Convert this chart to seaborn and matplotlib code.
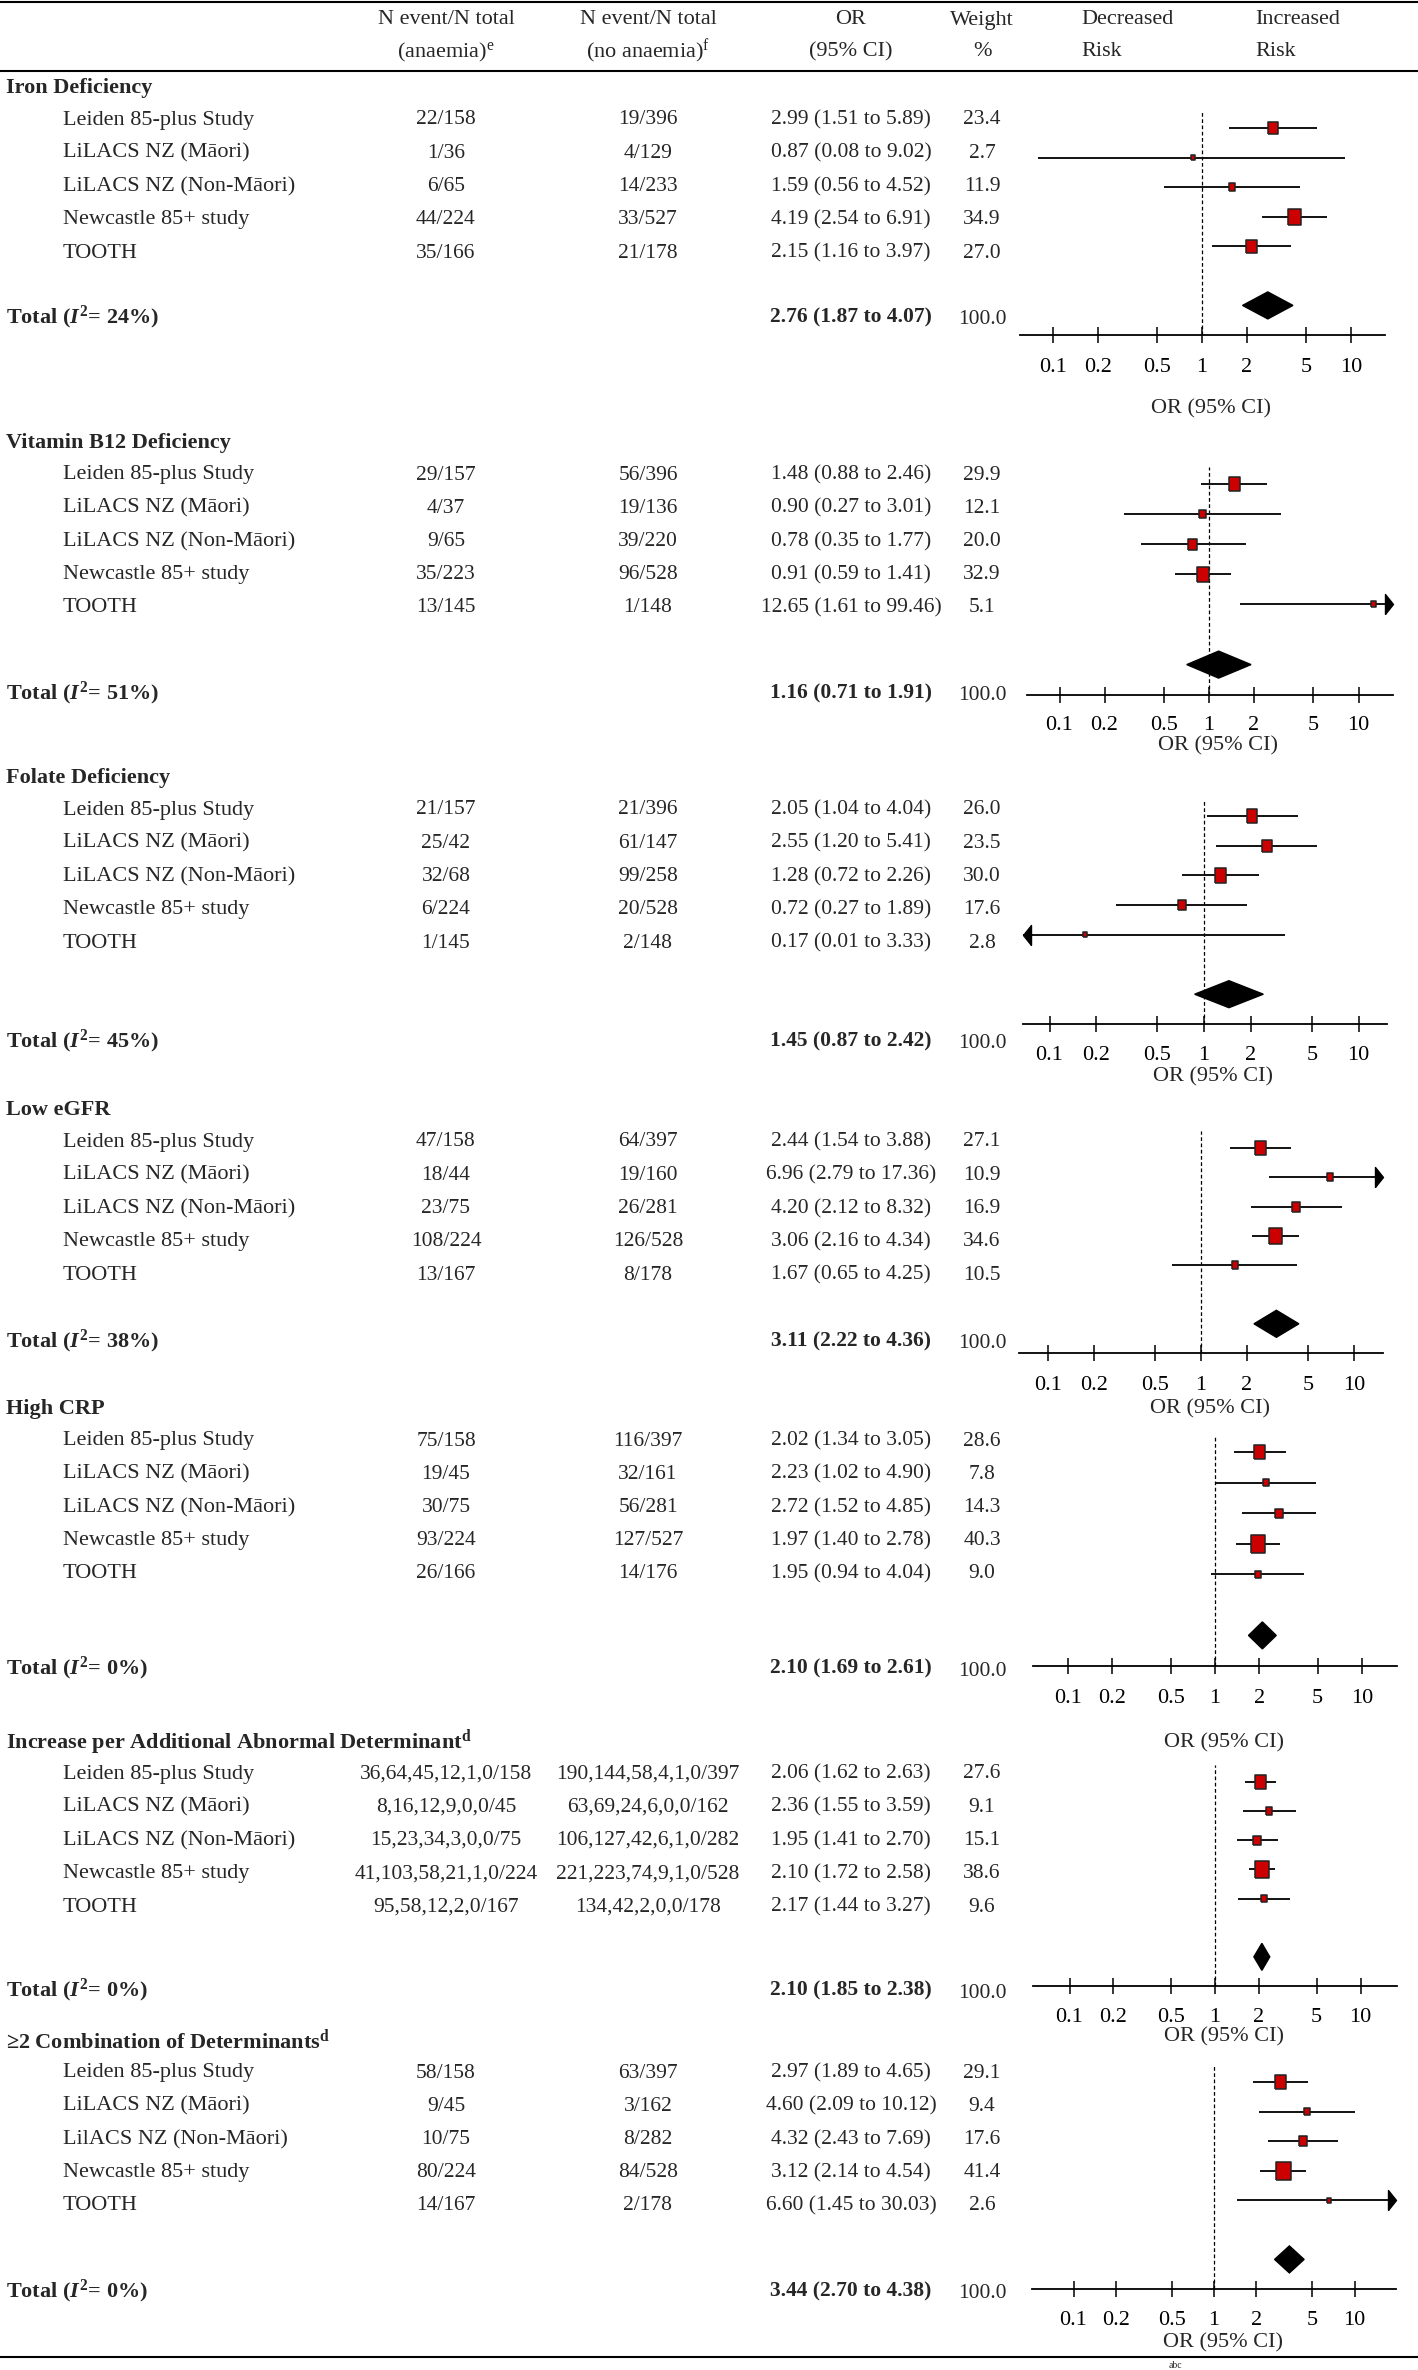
#!/usr/bin/env python3
"""
Forest plots: determinants of anaemia across five cohorts (seven panels)
"""
import matplotlib
matplotlib.use("Agg")
import numpy as np
import pandas as pd
import matplotlib.pyplot as plt
import seaborn as sns
from matplotlib.ticker import NullLocator

W, H, DPI = 1418, 2370, 100

# ---------------- data ----------------
studies = ["Leiden 85-plus Study", "LiLACS NZ (Māori)", "LiLACS NZ (Non-Māori)",
           "Newcastle 85+ study", "TOOTH"]
studies_combo = ["Leiden 85-plus Study", "LiLACS NZ (Māori)", "LilACS NZ (Non-Māori)",
                 "Newcastle 85+ study", "TOOTH"]
or_ticks = [0.1, 0.2, 0.5, 1, 2, 5, 10]
or_tick_labels = ["0.1", "0.2", "0.5", "1", "2", "5", "10"]

iron_anaemia = ["22/158", "1/36", "6/65", "44/224", "35/166"]
iron_none = ["19/396", "4/129", "14/233", "33/527", "21/178"]
iron_or = [2.99, 0.87, 1.59, 4.19, 2.15]
iron_lo = [1.51, 0.08, 0.56, 2.54, 1.16]
iron_hi = [5.89, 9.02, 4.52, 6.91, 3.97]
iron_w = [23.4, 2.7, 11.9, 34.9, 27.0]
iron_total = [2.76, 1.87, 4.07]
iron_i2 = 24

b12_anaemia = ["29/157", "4/37", "9/65", "35/223", "13/145"]
b12_none = ["56/396", "19/136", "39/220", "96/528", "1/148"]
b12_or = [1.48, 0.90, 0.78, 0.91, 12.65]
b12_lo = [0.88, 0.27, 0.35, 0.59, 1.61]
b12_hi = [2.46, 3.01, 1.77, 1.41, 99.46]
b12_w = [29.9, 12.1, 20.0, 32.9, 5.1]
b12_total = [1.16, 0.71, 1.91]
b12_i2 = 51

fol_anaemia = ["21/157", "25/42", "32/68", "6/224", "1/145"]
fol_none = ["21/396", "61/147", "99/258", "20/528", "2/148"]
fol_or = [2.05, 2.55, 1.28, 0.72, 0.17]
fol_lo = [1.04, 1.20, 0.72, 0.27, 0.01]
fol_hi = [4.04, 5.41, 2.26, 1.89, 3.33]
fol_w = [26.0, 23.5, 30.0, 17.6, 2.8]
fol_total = [1.45, 0.87, 2.42]
fol_i2 = 45

egfr_anaemia = ["47/158", "18/44", "23/75", "108/224", "13/167"]
egfr_none = ["64/397", "19/160", "26/281", "126/528", "8/178"]
egfr_or = [2.44, 6.96, 4.20, 3.06, 1.67]
egfr_lo = [1.54, 2.79, 2.12, 2.16, 0.65]
egfr_hi = [3.88, 17.36, 8.32, 4.34, 4.25]
egfr_w = [27.1, 10.9, 16.9, 34.6, 10.5]
egfr_total = [3.11, 2.22, 4.36]
egfr_i2 = 38

crp_anaemia = ["75/158", "19/45", "30/75", "93/224", "26/166"]
crp_none = ["116/397", "32/161", "56/281", "127/527", "14/176"]
crp_or = [2.02, 2.23, 2.72, 1.97, 1.95]
crp_lo = [1.34, 1.02, 1.52, 1.40, 0.94]
crp_hi = [3.05, 4.90, 4.85, 2.78, 4.04]
crp_w = [28.6, 7.8, 14.3, 40.3, 9.0]
crp_total = [2.10, 1.69, 2.61]
crp_i2 = 0

inc_anaemia = ["36,64,45,12,1,0/158", "8,16,12,9,0,0/45", "15,23,34,3,0,0/75",
               "41,103,58,21,1,0/224", "95,58,12,2,0/167"]
inc_none = ["190,144,58,4,1,0/397", "63,69,24,6,0,0/162", "106,127,42,6,1,0/282",
            "221,223,74,9,1,0/528", "134,42,2,0,0/178"]
inc_or = [2.06, 2.36, 1.95, 2.10, 2.17]
inc_lo = [1.62, 1.55, 1.41, 1.72, 1.44]
inc_hi = [2.63, 3.59, 2.70, 2.58, 3.27]
inc_w = [27.6, 9.1, 15.1, 38.6, 9.6]
inc_total = [2.10, 1.85, 2.38]
inc_i2 = 0

combo_anaemia = ["58/158", "9/45", "10/75", "80/224", "14/167"]
combo_none = ["63/397", "3/162", "8/282", "84/528", "2/178"]
combo_or = [2.97, 4.60, 4.32, 3.12, 6.60]
combo_lo = [1.89, 2.09, 2.43, 2.14, 1.45]
combo_hi = [4.65, 10.12, 7.69, 4.54, 30.03]
combo_w = [29.1, 9.4, 17.6, 41.4, 2.6]
combo_total = [3.44, 2.70, 4.38]
combo_i2 = 0

sections = [
    ("Iron Deficiency", studies, iron_anaemia, iron_none, iron_or, iron_lo, iron_hi, iron_w, iron_total, iron_i2),
    ("Vitamin B12 Deficiency", studies, b12_anaemia, b12_none, b12_or, b12_lo, b12_hi, b12_w, b12_total, b12_i2),
    ("Folate Deficiency", studies, fol_anaemia, fol_none, fol_or, fol_lo, fol_hi, fol_w, fol_total, fol_i2),
    ("Low eGFR", studies, egfr_anaemia, egfr_none, egfr_or, egfr_lo, egfr_hi, egfr_w, egfr_total, egfr_i2),
    ("High CRP", studies, crp_anaemia, crp_none, crp_or, crp_lo, crp_hi, crp_w, crp_total, crp_i2),
    (r"Increase per Additional Abnormal Determinant$^{\mathbf{d}}$", studies,
     inc_anaemia, inc_none, inc_or, inc_lo, inc_hi, inc_w, inc_total, inc_i2),
    (r"≥2 Combination of Determinants$^{\mathbf{d}}$", studies_combo,
     combo_anaemia, combo_none, combo_or, combo_lo, combo_hi, combo_w, combo_total, combo_i2),
]

# ---------------- layout (pixels) ----------------
header_y = [88, 443, 778, 1110, 1409, 1742, 2041]
total_y = [317, 693, 1041, 1341, 1668, 1990, 2291]
# axis left, axis right, x of OR=1, px per decade, first row y, row step,
# OR-label offset, tick label pad
panels = [
    (1020, 1385, 1202, 149.2, 128, 29.57, 74, 10.5),
    (1027, 1393, 1209, 149.5, 484, 30.1, 51, 9.5),
    (1023, 1387, 1204, 154.5, 816, 29.7, 53, 10.0),
    (1019, 1383, 1201, 153.0, 1148, 29.3, 56, 10.5),
    (1033, 1397, 1215, 147.0, 1452, 30.57, 77, 10.5),
    (1033, 1397, 1215, 145.5, 1782, 29.14, 51, 10.0),
    (1032, 1396, 1214, 140.5, 2082, 29.57, 54, 10.0),
]
COL_A, COL_B, COL_OR, COL_W = 446, 648, 851, 982
FS = 16
FS_NUM = 15.5
RED = "#CC0000"
BOX = [(-0.4, -0.5), (0.4, -0.5), (0.4, 0.5), (-0.4, 0.5), (-0.4, -0.5)]
ARROW_R = [(-0.4, -0.5), (0, 0), (-0.4, 0.5), (-0.4, -0.5)]
ARROW_L = [(0.4, -0.5), (0, 0), (0.4, 0.5), (0.4, -0.5)]

sns.set_style("white")
plt.rcParams["font.family"] = ["Liberation Serif", "DejaVu Serif"]
plt.rcParams["mathtext.fontset"] = "custom"
plt.rcParams["mathtext.rm"] = "Liberation Serif"
plt.rcParams["mathtext.it"] = "Liberation Serif:italic:bold"
plt.rcParams["mathtext.bf"] = "Liberation Serif:bold"

fig = plt.figure(figsize=(W / DPI, H / DPI), dpi=DPI)
bg = fig.add_axes([0, 0, 1, 1])
bg.set_xlim(0, W)
bg.set_ylim(H, 0)
bg.axis("off")

# rules
bg.hlines([1.5, 71, 2357], 0, W, color="black", lw=1.5)

# column headers
hdr = dict(fontsize=FS, va="center")
bg.text(COL_A, 20, "N event/N total", ha="center", **hdr)
bg.text(COL_A, 52, r"(anaemia)$^{\mathrm{e}}$", ha="center", **hdr)
bg.text(COL_B, 20, "N event/N total", ha="center", **hdr)
bg.text(COL_B, 52, r"(no anaemia)$^{\mathrm{f}}$", ha="center", **hdr)
bg.text(COL_OR, 20, "OR", ha="center", **hdr)
bg.text(COL_OR, 52, "(95% CI)", ha="center", **hdr)
bg.text(COL_W, 20, "Weight", ha="center", **hdr)
bg.text(COL_W, 52, "%", ha="center", **hdr)
bg.text(1081, 20, "Decreased", ha="left", **hdr)
bg.text(1081, 52, "Risk", ha="left", **hdr)
bg.text(1255, 20, "Increased", ha="left", **hdr)
bg.text(1255, 52, "Risk", ha="left", **hdr)

for k, (title, names, n_a, n_b, ors, los, his, ws, tot, i2) in enumerate(sections):
    hy = header_y[k]
    bg.text(6, hy, title, fontsize=FS, fontweight="bold", va="center")
    for i in range(5):
        ry = hy + 32 + 33.25 * i
        bg.text(63, ry, names[i], fontsize=FS, va="center")
        bg.text(COL_A, ry, n_a[i], fontsize=FS_NUM, va="center", ha="center")
        bg.text(COL_B, ry, n_b[i], fontsize=FS_NUM, va="center", ha="center")
        bg.text(COL_OR, ry, f"{ors[i]:.2f} ({los[i]:.2f} to {his[i]:.2f})",
                fontsize=FS_NUM, va="center", ha="center")
        bg.text(COL_W, ry, f"{ws[i]:.1f}", fontsize=FS_NUM, va="center", ha="center")
    ty = total_y[k]
    bg.text(6, ty, r"Total ($I^{\mathbf{2}}$= " + f"{i2}%)", fontsize=FS,
            fontweight="bold", va="center")
    bg.text(COL_OR, ty, f"{tot[0]:.2f} ({tot[1]:.2f} to {tot[2]:.2f})", fontsize=FS_NUM,
            fontweight="bold", va="center", ha="center")
    bg.text(COL_W, ty + 3, "100.0", fontsize=FS_NUM, va="center", ha="center")

    # forest panel
    x0, x1, p1, dec, row0, step, or_off, tpad = panels[k]
    top = row0 - 17
    axis_y = row0 + 7 * step
    ax = fig.add_axes([x0 / W, 1 - axis_y / H, (x1 - x0) / W, (axis_y - top) / H])
    ax.set_facecolor("none")
    ax.set_xscale("log")
    xmin = 10 ** ((x0 - p1) / dec)
    xmax = 10 ** ((x1 - p1) / dec)

    df = pd.DataFrame({"or": ors, "lo": los, "hi": his, "weight": ws, "row": np.arange(5)})
    ax.axvline(1, color="black", lw=0.9, ls=(0, (3, 2)), zorder=1)
    ax.hlines(df["row"], df["lo"], df["hi"], color="#111111", lw=1.4, zorder=2)
    sizes = {w: (1.25 * (3.5 + 0.27 * w) * 72 / DPI) ** 2 for w in ws}
    sns.scatterplot(data=df, x="or", y="row", size="weight", sizes=sizes, marker=BOX,
                    color=RED, edgecolor="#222222", linewidth=1.1, legend=False,
                    zorder=4, ax=ax)
    for _, r in df.iterrows():
        if r["hi"] > xmax:
            ax.scatter([xmax], [r["row"]], marker=ARROW_R, s=(20 * 72 / DPI) ** 2,
                       color="black", clip_on=False, zorder=3)
        if r["lo"] < xmin:
            ax.scatter([xmin], [r["row"]], marker=ARROW_L, s=(20 * 72 / DPI) ** 2,
                       color="black", clip_on=False, zorder=3)
    half = 13.5 / step
    ax.fill([tot[1], tot[0], tot[2], tot[0]], [6, 6 - half, 6, 6 + half],
            color="black", zorder=4)

    ax.set_xlim(xmin, xmax)
    ax.set_ylim(7, -17 / step)
    ax.set_xticks(or_ticks)
    ax.set_xticklabels(or_tick_labels)
    ax.xaxis.set_minor_locator(NullLocator())
    ax.tick_params(axis="x", which="major", bottom=True, direction="inout",
                   length=11.5, width=1.1, pad=tpad, labelsize=FS, colors="black")
    ax.set_yticks([])
    ax.set_xlabel("")
    ax.set_ylabel("")
    for side in ["top", "left", "right"]:
        ax.spines[side].set_visible(False)
    ax.spines["bottom"].set_linewidth(1.3)
    ax.spines["bottom"].set_color("black")
    bg.text(p1 + 9, axis_y + or_off, "OR (95% CI)", fontsize=FS, ha="center", va="center")

bg.text(1175, 2366, "abc", fontsize=7, ha="center", va="center")

fig.savefig("out.png", dpi=DPI)
plt.close(fig)
